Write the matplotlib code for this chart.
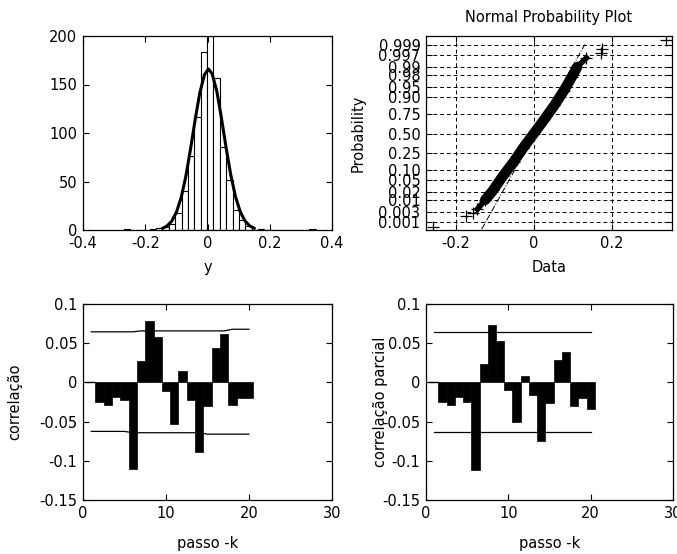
import matplotlib
matplotlib.use('Agg')
import matplotlib.pyplot as plt
import numpy as np
from statistics import NormalDist

plt.rcParams['font.family'] = ['DejaVu Sans']
plt.rcParams['font.size'] = 10.5

# ---------------- data ----------------
# histogram (30 bins over the data range)
hist_range = (-0.268, 0.347)
hist_counts = [1, 0, 0, 0, 1, 2, 3, 6, 18, 40, 76, 117, 184, 200, 157,
               86, 52, 21, 10, 4, 0, 1, 0, 0, 0, 0, 0, 0, 0, 1]
# fitted normal curve
fit_x = [-0.144, -0.13, -0.115, -0.10, -0.085, -0.07, -0.055, -0.04, -0.025, -0.01,
         0.003, 0.015, 0.03, 0.045, 0.06, 0.075, 0.09, 0.105, 0.12, 0.135, 0.15]
fit_y = [1.8, 4.2, 9.1, 18.2, 33, 54.6, 82.5, 113, 141, 160,
         166, 161, 143, 115, 84.4, 56.4, 34.3, 19, 9.6, 4.4, 1.8]
hist_xticks = [-0.4, -0.2, 0, 0.2, 0.4]
hist_xticklabels = ['-0.4', '-0.2', '0', '0.2', '0.4']
hist_yticks = [0, 50, 100, 150, 200]

# normal probability plot
pp_prob = [0.0005, 0.0019, 0.0028, 0.004, 0.01, 0.023, 0.067, 0.16, 0.31, 0.5,
           0.69, 0.84, 0.933, 0.977, 0.99, 0.996, 0.9975, 0.9985, 0.9995]
pp_data = [-0.26, -0.173, -0.155, -0.145, -0.125, -0.105, -0.08, -0.052, -0.027, 0.0,
           0.027, 0.053, 0.077, 0.098, 0.111, 0.135, 0.172, 0.176, 0.34]
ref_prob = [0.0004, 0.9991]
ref_data = [-0.134, 0.131]
pp_ticks = [0.001, 0.003, 0.01, 0.02, 0.05, 0.10, 0.25, 0.50, 0.75, 0.90,
            0.95, 0.98, 0.99, 0.997, 0.999]
pp_ticklabels = ['0.001', '0.003', '0.01', '0.02', '0.05', '0.10', '0.25', '0.50',
                 '0.75', '0.90', '0.95', '0.98', '0.99', '0.997', '0.999']
pp_xlim = (-0.277, 0.355)
pp_xticks = [-0.2, 0, 0.2]
pp_xticklabels = ['-0.2', '0', '0.2']

# autocorrelation / partial autocorrelation
lags = [2, 3, 4, 5, 6, 7, 8, 9, 10, 11, 12, 13, 14, 15, 16, 17, 18, 19, 20]
acf = [-0.0254, -0.0288, -0.018, -0.0225, -0.110, 0.027, 0.078, 0.058, -0.011, -0.053,
       0.0148, -0.0229, -0.0894, -0.0305, 0.0445, 0.0615, -0.0284, -0.020, -0.020]
pacf = [-0.0254, -0.0288, -0.018, -0.0254, -0.112, 0.0229, 0.0735, 0.0525, -0.0093, -0.0508,
        0.0076, -0.0161, -0.075, -0.0267, 0.0284, 0.0394, -0.030, -0.020, -0.0335]
bound_lags = [1, 2, 3, 4, 5, 6, 7, 8, 9, 10, 11, 12, 13, 14, 15, 16, 17, 18, 19, 20]
acf_upper = [0.0645, 0.0645, 0.0645, 0.0645, 0.0645, 0.0645, 0.0657, 0.0657, 0.0657, 0.0657,
             0.0657, 0.0657, 0.0657, 0.0657, 0.0657, 0.0657, 0.0657, 0.0678, 0.0678, 0.0678]
acf_lower = [-0.0625, -0.0625, -0.0625, -0.0625, -0.0625, -0.0642, -0.0642, -0.0642, -0.0642, -0.0642,
             -0.0642, -0.0642, -0.0642, -0.0642, -0.066, -0.066, -0.066, -0.066, -0.066, -0.066]
pacf_upper = [0.0643] * 20
pacf_lower = [-0.0628] * 20
corr_xticks = [0, 10, 20, 30]
corr_yticks = [-0.15, -0.1, -0.05, 0, 0.05, 0.1]
corr_yticklabels = ['-0.15', '-0.1', '-0.05', '0', '0.05', '0.1']

# ---------------- figure ----------------
W, H = 677, 554
fig = plt.figure(figsize=(W / 100, H / 100), dpi=100)


def axes_px(l, t, r, b):
    return fig.add_axes([l / W, 1 - b / H, (r - l) / W, (b - t) / H])


def style(ax):
    ax.tick_params(direction='in', top=True, right=True, length=4, width=0.8,
                   labelsize=10.5, pad=4)
    for s in ax.spines.values():
        s.set_linewidth(0.9)


# --- histogram ---
ax1 = axes_px(83, 36, 332, 230)
nb = len(hist_counts)
w = (hist_range[1] - hist_range[0]) / nb
centers = hist_range[0] + w * (np.arange(nb) + 0.5)
ax1.bar(centers, hist_counts, width=w, color='white', edgecolor='black', linewidth=0.8)
ax1.plot(fit_x, fit_y, color='black', linewidth=2.2)
ax1.set_xlim(-0.4, 0.4)
ax1.set_ylim(0, 200)
ax1.set_xticks(hist_xticks)
ax1.set_xticklabels(hist_xticklabels)
ax1.set_yticks(hist_yticks)
style(ax1)
ax1.set_xlabel('y', va='baseline')
ax1.xaxis.set_label_coords(0.5, -0.219)

# --- normal probability plot ---
nd = NormalDist()
ax2 = axes_px(426, 36, 672, 230)
q = np.array([nd.inv_cdf(p) for p in pp_prob])
d = np.array(pp_data)
qr = [nd.inv_cdf(p) for p in ref_prob]
ax2.plot(ref_data, qr, color='black', linewidth=0.7, linestyle='-.')
ax2.plot(d[4:15], q[4:15], color='black', linewidth=7.5, solid_capstyle='round')
ax2.plot(d[3:5], q[3:5], color='black', linewidth=4.0)
ax2.plot(d[14:16], q[14:16], color='black', linewidth=4.0)
ax2.plot(d, q, linestyle='none', marker='+', markersize=9, color='black', markeredgewidth=0.9)
qt = [nd.inv_cdf(p) for p in pp_ticks]
ax2.set_yticks(qt)
ax2.set_yticklabels(pp_ticklabels)
ax2.set_ylim(-3.38, 3.42)
ax2.set_xlim(*pp_xlim)
ax2.set_xticks(pp_xticks)
ax2.set_xticklabels(pp_xticklabels)
ax2.grid(True, color='black', linestyle=(0, (4, 3)), linewidth=0.7)
style(ax2)
ax2.set_title('Normal Probability Plot', fontsize=10.5, pad=10)
ax2.set_xlabel('Data', va='baseline')
ax2.xaxis.set_label_coords(0.5, -0.219)
ax2.set_ylabel('Probability', va='center')
ax2.yaxis.set_label_coords(-0.274, 0.5)

# --- autocorrelation ---
def corr_plot(ax, vals, up, lo, ylabel, lx):
    ax.bar(lags, vals, width=1.0, color='black', edgecolor='black', linewidth=0.5)
    ax.plot([0.4, 1.5], [0, 0], color='black', linewidth=1.0)
    ax.plot(bound_lags, up, color='black', linewidth=0.9)
    ax.plot(bound_lags, lo, color='black', linewidth=0.9)
    ax.set_xlim(0, 30)
    ax.set_ylim(-0.15, 0.1)
    ax.set_xticks(corr_xticks)
    ax.set_yticks(corr_yticks)
    ax.set_yticklabels(corr_yticklabels)
    style(ax)
    ax.set_xlabel('passo -k', va='baseline')
    ax.xaxis.set_label_coords(0.5, -0.243)
    ax.set_ylabel(ylabel, va='center')
    ax.yaxis.set_label_coords(lx, 0.5)


ax3 = axes_px(83, 304, 332, 500)
corr_plot(ax3, acf, acf_upper, acf_lower, 'correlação', -0.273)
ax4 = axes_px(426, 304, 673, 500)
corr_plot(ax4, pacf, pacf_upper, pacf_lower, 'correlação parcial', -0.184)

fig.savefig('out.png', dpi=100)
